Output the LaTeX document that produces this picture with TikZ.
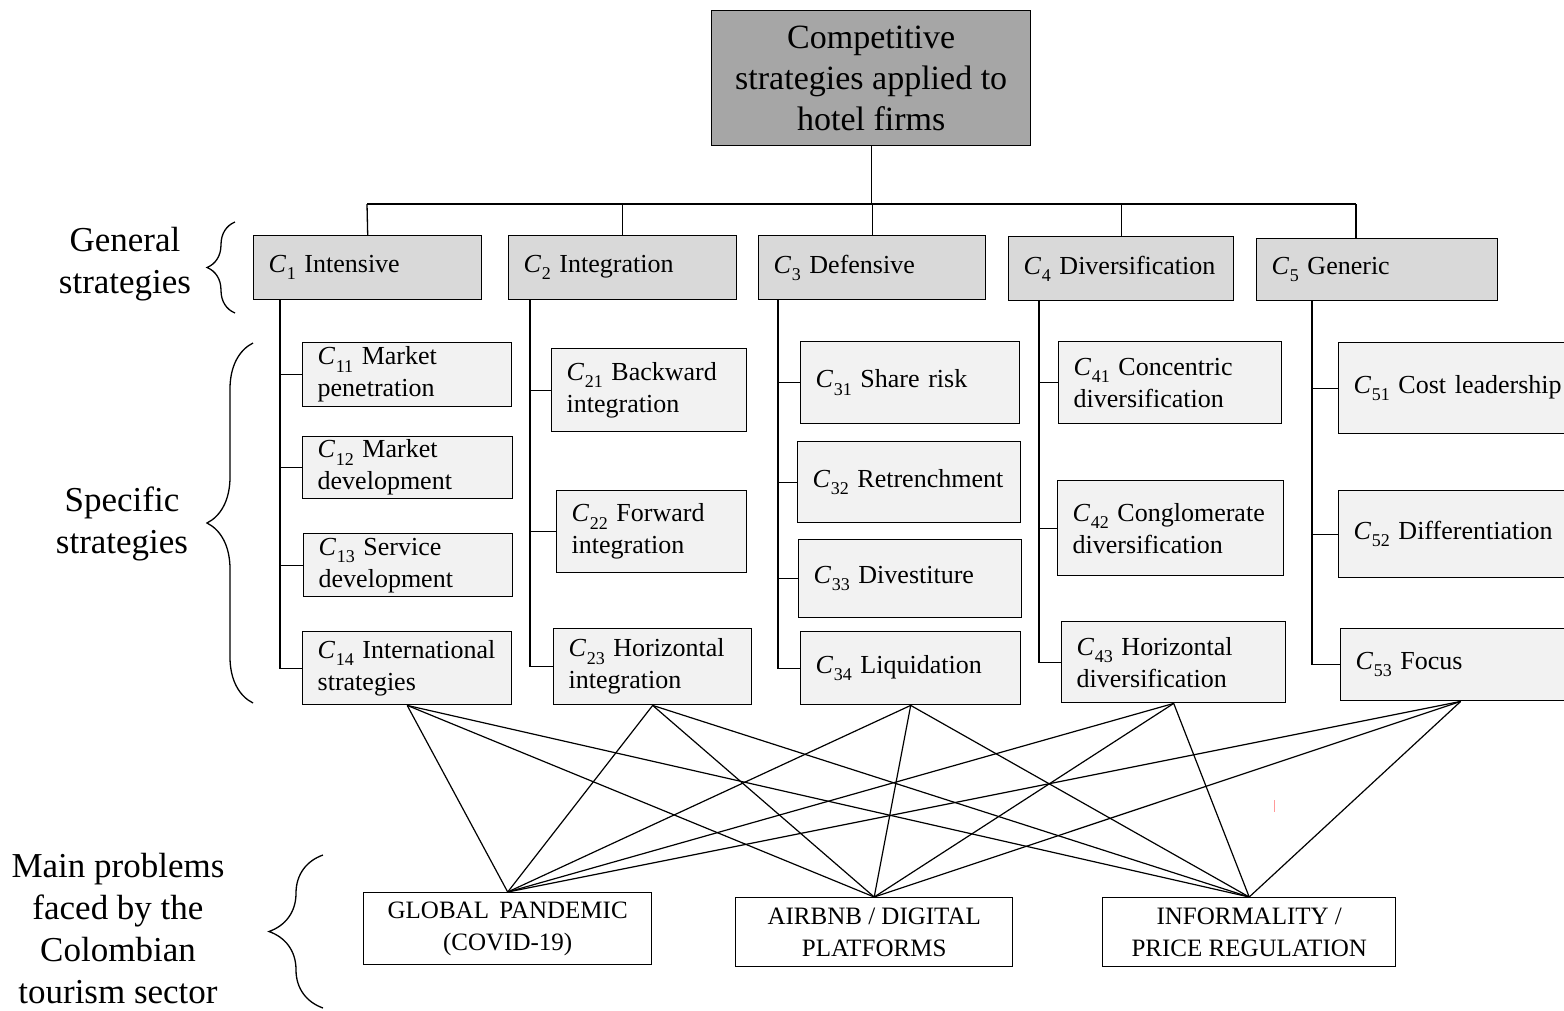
\documentclass[tikz,border=0pt]{standalone}
\usepackage{fontspec}
\setmainfont{Liberation Serif}
\usetikzlibrary{decorations.pathreplacing}
\definecolor{topgray}{HTML}{A6A6A6}
\definecolor{gengray}{HTML}{D9D9D9}
\definecolor{specgray}{HTML}{F2F2F2}
\newcommand\Csub[1]{\textit{C}\kern0.02em\raisebox{-0.28em}{\fontsize{18pt}{18pt}\selectfont #1}}
\newcommand\Lone[2]{\mbox{\Csub{#1} #2}}
\begin{document}
\begin{tikzpicture}[x=1pt,y=-1pt,
  basebox/.style={draw=black, line width=1.4pt, anchor=north west, inner xsep=15pt, inner ysep=0pt},
  topbox/.style={basebox, fill=topgray, align=center, inner xsep=4pt, font=\fontsize{34pt}{41pt}\selectfont},
  genbox/.style={basebox, fill=gengray, align=left, font=\fontsize{26pt}{32pt}\selectfont},
  specbox/.style={basebox, fill=specgray, align=left, font=\fontsize{26pt}{32pt}\selectfont},
  probbox/.style={basebox, fill=white, align=center, inner xsep=4pt, font=\fontsize{25pt}{32pt}\selectfont},
  sidelabel/.style={align=center, font=\fontsize{35pt}{42pt}\selectfont},
  conn/.style={line width=1.3pt},
  cross/.style={line width=1.2pt},
  bracestyle/.style={line width=1.3pt, decorate}
]
\useasboundingbox (0,0) rectangle (1564,1010);

% top
\node[topbox, minimum width=319pt, minimum height=135pt] (top) at (711,10)
  {Competitive\\strategies applied to\\hotel firms};

% general strategies
\node[genbox, minimum width=228pt, minimum height=64pt, text width=198pt] (c1) at (253,235) {\Lone{1}{Intensive}};
\node[genbox, minimum width=228pt, minimum height=64pt, text width=198pt] (c2) at (508,235) {\Lone{2}{Integration}};
\node[genbox, minimum width=227pt, minimum height=64pt, text width=197pt] (c3) at (758,235) {\Lone{3}{Defensive}};
\node[genbox, minimum width=225pt, minimum height=64pt, text width=195pt] (c4) at (1008,236) {\Lone{4}{Diversification}};
\node[genbox, minimum width=241pt, minimum height=62pt, text width=211pt] (c5) at (1256,238) {\Lone{5}{Generic}};

% specific strategies
\node[specbox, minimum width=209pt, minimum height=64pt, text width=179pt] (c11) at (302,342) {\Lone{11}{Market}\\penetration};
\node[specbox, minimum width=210pt, minimum height=62pt, text width=180pt] (c12) at (302,436) {\Lone{12}{Market}\\development};
\node[specbox, minimum width=209pt, minimum height=63pt, text width=179pt] (c13) at (303,533) {\Lone{13}{Service}\\development};
\node[specbox, minimum width=209pt, minimum height=73pt, text width=179pt] (c14) at (302,631) {\Lone{14}{International}\\strategies};

\node[specbox, minimum width=195pt, minimum height=83pt, text width=165pt] (c21) at (551,348) {\Lone{21}{Backward}\\integration};
\node[specbox, minimum width=190pt, minimum height=82pt, text width=160pt] (c22) at (556,490) {\Lone{22}{Forward}\\integration};
\node[specbox, minimum width=198pt, minimum height=76pt, text width=168pt] (c23) at (553,628) {\Lone{23}{Horizontal}\\integration};

\node[specbox, minimum width=219pt, minimum height=82pt, text width=189pt] (c31) at (800,341) {\Lone{31}{Share risk}};
\node[specbox, minimum width=223pt, minimum height=81pt, text width=193pt] (c32) at (797,441) {\Lone{32}{Retrenchment}};
\node[specbox, minimum width=223pt, minimum height=78pt, text width=193pt] (c33) at (798,539) {\Lone{33}{Divestiture}};
\node[specbox, minimum width=220pt, minimum height=73pt, text width=190pt] (c34) at (800,631) {\Lone{34}{Liquidation}};

\node[specbox, minimum width=223pt, minimum height=82pt, text width=193pt] (c41) at (1058,341) {\Lone{41}{Concentric}\\diversification};
\node[specbox, minimum width=226pt, minimum height=95pt, text width=196pt] (c42) at (1057,480) {\Lone{42}{Conglomerate}\\diversification};
\node[specbox, minimum width=224pt, minimum height=81pt, text width=194pt] (c43) at (1061,621) {\Lone{43}{Horizontal}\\diversification};

\node[specbox, minimum width=240pt, minimum height=91pt, text width=210pt, inner xsep=14pt] (c51) at (1338,342) {\Lone{51}{Cost leadership}};
\node[specbox, minimum width=240pt, minimum height=87pt, text width=210pt, inner xsep=14pt] (c52) at (1338,490) {\Lone{52}{Differentiation}};
\node[specbox, minimum width=240pt, minimum height=72pt, text width=210pt, inner xsep=14pt] (c53) at (1340,628) {\Lone{53}{Focus}};

% problems
\node[probbox, minimum width=288pt, minimum height=72pt] (p1) at (363,892) {GLOBAL \,PANDEMIC\\(COVID-19)};
\node[probbox, minimum width=277pt, minimum height=69pt] (p2) at (735,897) {AIRBNB / DIGITAL\\PLATFORMS};
\node[probbox, minimum width=293pt, minimum height=69pt] (p3) at (1102,897) {INFORMALITY /\\PRICE REGULATION};

% side labels
\node[sidelabel] (lgen) at (125,264) {General\\strategies};
\node[sidelabel] (lspec) at (122,524) {Specific\\strategies};
\node[sidelabel] (lprob) at (118,929) {Main problems\\faced by the\\Colombian\\tourism sector};

% braces
\coordinate (bg1) at (235,313); \coordinate (bg2) at (235,222);
\coordinate (bs1) at (253,703); \coordinate (bs2) at (253,343);
\coordinate (bp1) at (323,1008); \coordinate (bp2) at (323,855);
\draw[bracestyle, decoration={brace, amplitude=28pt}] (bg1) -- (bg2);
\draw[bracestyle, decoration={brace, amplitude=46pt}] (bs1) -- (bs2);
\draw[bracestyle, decoration={brace, amplitude=54pt}] (bp1) -- (bp2);

% top tree
\coordinate (barL) at (367,204);
\coordinate (barR) at (1356,204);
\draw[conn] (top.south) -- (top.south |- barL);
\draw[conn] (barL) -- (barR);
\draw[conn] (barL) -- (c1.north);
\draw[conn] (c2.north |- barL) -- (c2.north);
\draw[conn] (c3.north |- barL) -- (c3.north);
\draw[conn] (c4.north |- barL) -- (c4.north);
\draw[conn] (barR) -- (barR |- c5.north);

% trunks
\coordinate (t1) at (280,299);
\draw[conn] (t1) |- (c14.west);
\draw[conn] (t1 |- c11.west) -- (c11.west);
\draw[conn] (t1 |- c12.west) -- (c12.west);
\draw[conn] (t1 |- c13.west) -- (c13.west);

\coordinate (t2) at (530,299);
\draw[conn] (t2) |- (c23.west);
\draw[conn] (t2 |- c21.west) -- (c21.west);
\draw[conn] (t2 |- c22.west) -- (c22.west);

\coordinate (t3) at (778,299);
\draw[conn] (t3) |- (c34.west);
\draw[conn] (t3 |- c31.west) -- (c31.west);
\draw[conn] (t3 |- c32.west) -- (c32.west);
\draw[conn] (t3 |- c33.west) -- (c33.west);

\coordinate (t4) at (1039,300);
\draw[conn] (t4) |- (c43.west);
\draw[conn] (t4 |- c41.west) -- (c41.west);
\draw[conn] (t4 |- c42.west) -- (c42.west);

\coordinate (t5) at (1312,300);
\draw[conn] (t5) |- (c53.west);
\draw[conn] (t5 |- c51.west) -- (c51.west);
\draw[conn] (t5 |- c52.west) -- (c52.west);

% cross links
\foreach \s in {c14,c23,c34,c43,c53}
  \foreach \p in {p1,p2,p3}
    \draw[cross] (\s.south) -- (\p.north);

% stray mark
\draw[red!40, line width=1pt] (1274,800) -- (1274,812);
\end{tikzpicture}
\end{document}
